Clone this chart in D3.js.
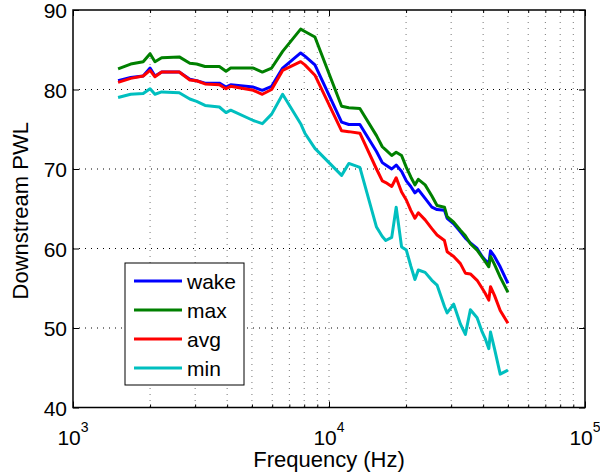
<!DOCTYPE html>
<html>
<head>
<meta charset="utf-8">
<script src="https://cdn.jsdelivr.net/npm/d3@7"></script>
<style>
    body { margin: 0; background: #fff; }
    svg { display: block; font-family: "Liberation Sans", Arial, Helvetica, sans-serif; }
</style>
</head>
<body>
<div id="chart"></div>
<script>
// Donnees
const freqs = [1500, 1680, 1880, 2000, 2090, 2220, 2600, 2860, 3040, 3280,
    3730, 3960, 4130, 5060, 5490, 5970, 6590, 7750, 8050, 8810,
    11200, 11950, 13200, 15330, 16150, 16660, 17580, 18300, 19210, 20050,
    20870, 21660, 22330, 23740, 25220, 26430, 28250, 28940, 30700, 32600,
    34100, 35670, 37890, 39650, 40850, 42100, 42750, 44300, 46640, 50000];

const wake = [81.1, 81.5, 81.7, 82.7, 81.7, 82.2, 82.2, 81.3, 81.1, 80.8,
    80.8, 80.3, 80.6, 80.3, 79.9, 80.4, 82.7, 84.6, 84.2, 83.1,
    75.9, 75.6, 75.6, 72.2, 70.8, 70.5, 70.0, 70.5, 69.7, 68.5,
    67.8, 67.0, 67.4, 66.3, 65.2, 64.9, 64.8, 63.8, 63.1, 62.1,
    61.3, 60.7, 60.0, 59.0, 58.5, 58.1, 59.7, 59.0, 57.7, 55.6];

const maxVals = [82.6, 83.2, 83.5, 84.5, 83.5, 84.0, 84.1, 83.3, 83.2, 82.9,
    82.9, 82.3, 82.7, 82.7, 82.2, 82.7, 84.8, 87.6, 87.3, 86.6,
    77.9, 77.7, 77.6, 74.2, 72.8, 72.4, 71.7, 72.1, 71.7, 70.2,
    69.0, 68.0, 68.7, 68.0, 66.6, 65.4, 65.2, 64.0, 63.3, 62.3,
    61.6, 60.6, 59.8, 58.9, 58.3, 57.7, 59.0, 58.0, 56.4, 54.5];

const avgVals = [80.9, 81.4, 81.7, 82.4, 81.6, 82.2, 82.2, 81.2, 81.1, 80.7,
    80.6, 80.1, 80.4, 79.9, 79.4, 80.0, 82.4, 83.5, 83.1, 81.8,
    74.8, 74.7, 74.5, 70.0, 68.5, 68.3, 67.8, 68.9, 67.1, 66.1,
    64.8, 63.8, 64.5, 63.6, 62.5, 61.7, 61.0, 59.6, 59.0, 58.1,
    56.9, 56.8, 56.0, 55.0, 54.3, 53.5, 55.2, 54.1, 52.2, 50.6];

const minVals = [79.0, 79.4, 79.5, 80.1, 79.4, 79.7, 79.6, 78.8, 78.5, 78.0,
    77.8, 77.1, 77.4, 76.1, 75.7, 76.9, 79.4, 75.7, 74.5, 72.6,
    69.2, 70.7, 70.2, 62.7, 61.5, 61.0, 61.4, 65.2, 60.2, 59.8,
    57.8, 56.1, 57.3, 57.0, 56.0, 55.4, 52.7, 51.9, 53.0, 50.5,
    49.2, 52.3, 51.3, 49.5, 48.6, 47.4, 49.5, 47.4, 44.2, 44.7];

const seriesNames = ['wake', 'max', 'avg', 'min'];
const seriesColors = ['#0000ff', '#008000', '#ff0000', '#00bfbf'];
const yTicks = [40, 50, 60, 70, 80, 90];
const xMajor = [1e3, 1e4, 1e5];
const xExponents = ['3', '4', '5'];

const width = 600, height = 472;
const margin = { top: 10, right: 15, bottom: 64.5, left: 73 };

const svg = d3.select('#chart')
    .append('svg')
    .attr('width', width)
    .attr('height', height);

// Echelles
const x = d3.scaleLog()
    .domain([1e3, 1e5])
    .range([margin.left, width - margin.right]);

const y = d3.scaleLinear()
    .domain([40, 90])
    .range([height - margin.bottom, margin.top]);

const [x0, x1] = x.range();
const [yb, yt] = y.range();
const allXTicks = x.ticks();
const xMinor = allXTicks.filter(d => !xMajor.includes(d));

// Grille pointillee
svg.append('g')
    .selectAll('line')
    .data(allXTicks.filter(d => d > 1e3 && d < 1e5))
    .enter()
    .append('line')
    .attr('x1', d => x(d)).attr('x2', d => x(d))
    .attr('y1', yt).attr('y2', yb)
    .attr('stroke', '#777')
    .attr('stroke-width', 1)
    .attr('stroke-dasharray', '1,5');

svg.append('g')
    .selectAll('line')
    .data(yTicks.slice(1, -1))
    .enter()
    .append('line')
    .attr('x1', x0).attr('x2', x1)
    .attr('y1', d => y(d)).attr('y2', d => y(d))
    .attr('stroke', '#000')
    .attr('stroke-width', 1)
    .attr('stroke-dasharray', '1,5');

// Axes (ticks vers l'interieur, style MATLAB)
function styleAxis(sel) {
    sel.select('.domain').remove();
    sel.selectAll('line').attr('stroke', '#000').attr('stroke-width', 1);
    return sel;
}

svg.append('g')
    .attr('transform', `translate(0,${yb})`)
    .call(d3.axisBottom(x).tickValues(xMajor).tickSizeInner(-6).tickSizeOuter(0).tickFormat(''))
    .call(styleAxis);
svg.append('g')
    .attr('transform', `translate(0,${yb})`)
    .call(d3.axisBottom(x).tickValues(xMinor).tickSizeInner(-3).tickSizeOuter(0).tickFormat(''))
    .call(styleAxis);
svg.append('g')
    .attr('transform', `translate(0,${yt})`)
    .call(d3.axisTop(x).tickValues(xMajor).tickSizeInner(-6).tickSizeOuter(0).tickFormat(''))
    .call(styleAxis);
svg.append('g')
    .attr('transform', `translate(0,${yt})`)
    .call(d3.axisTop(x).tickValues(xMinor).tickSizeInner(-3).tickSizeOuter(0).tickFormat(''))
    .call(styleAxis);

svg.append('g')
    .attr('transform', `translate(${x0},0)`)
    .call(d3.axisLeft(y).tickValues(yTicks).tickSizeInner(-6).tickSizeOuter(0).tickPadding(6).tickFormat(d3.format('d')))
    .call(styleAxis)
    .selectAll('text')
    .style('font-size', '21px')
    .style('fill', '#000')
    .attr('dy', '0.36em');

svg.append('g')
    .attr('transform', `translate(${x1},0)`)
    .call(d3.axisRight(y).tickValues(yTicks).tickSizeInner(-6).tickSizeOuter(0).tickFormat(''))
    .call(styleAxis);

// Labels 10^n
const xLabels = svg.append('g')
    .selectAll('text')
    .data(xMajor)
    .enter()
    .append('text')
    .attr('x', d => x(d))
    .attr('y', 445)
    .style('text-anchor', 'middle')
    .style('font-size', '21px')
    .style('fill', '#000');
xLabels.append('tspan').text('10');
xLabels.append('tspan')
    .attr('dy', -13)
    .style('font-size', '14px')
    .text((d, i) => xExponents[i]);

// Titres des axes
svg.append('text')
    .attr('x', x(1e4))
    .attr('y', 467)
    .style('text-anchor', 'middle')
    .style('font-size', '22px')
    .text('Frequency (Hz)');

svg.append('text')
    .attr('transform', `translate(28,${(yt + yb) / 2 + 2}) rotate(-90)`)
    .style('text-anchor', 'middle')
    .style('font-size', '22px')
    .text('Downstream PWL');

// Courbes
const allSeries = [wake, maxVals, avgVals, minVals];
const line = d3.line()
    .x((d, i) => x(freqs[i]))
    .y(d => y(d));

svg.append('g')
    .selectAll('path')
    .data(allSeries)
    .enter()
    .append('path')
    .attr('d', d => line(d))
    .attr('fill', 'none')
    .attr('stroke', (d, i) => seriesColors[i])
    .attr('stroke-width', 3)
    .attr('stroke-linejoin', 'round');

// Cadre
svg.append('rect')
    .attr('x', x0).attr('y', yt)
    .attr('width', x1 - x0).attr('height', yb - yt)
    .attr('fill', 'none')
    .attr('stroke', '#000')
    .attr('stroke-width', 1.5);

// Legende
const legend = svg.append('g')
    .attr('transform', 'translate(125,263)');

legend.append('rect')
    .attr('width', 119)
    .attr('height', 122)
    .attr('fill', '#fff')
    .attr('stroke', '#000')
    .attr('stroke-width', 1);

seriesNames.forEach((name, i) => {
    const row = legend.append('g')
        .attr('transform', `translate(0, ${18 + i * 29})`);

    row.append('line')
        .attr('x1', 9).attr('x2', 57)
        .attr('stroke', seriesColors[i])
        .attr('stroke-width', 3);

    row.append('text')
        .attr('x', 62)
        .attr('y', 7.5)
        .style('font-size', '21px')
        .text(name);
});
</script>
</body>
</html>
